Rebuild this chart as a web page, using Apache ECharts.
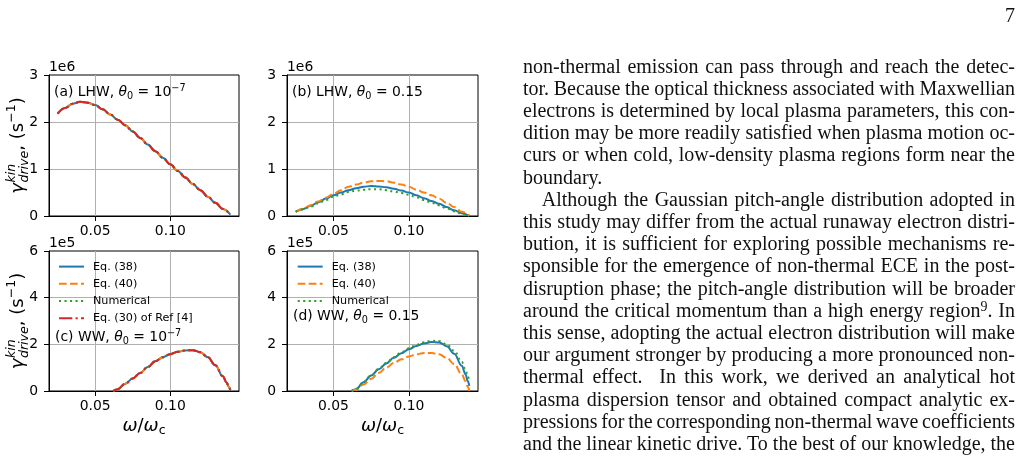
<!DOCTYPE html>
<html>
<head>
<meta charset="utf-8">
<script src="https://cdn.jsdelivr.net/npm/echarts@6/dist/echarts.min.js"></script>
<style>
html, body { margin: 0; padding: 0; background: #fff; }
#page { position: relative; width: 1021px; height: 471px; overflow: hidden; }
#chart { position: absolute; left: 0; top: 0; width: 1021px; height: 471px; }
#col { position: absolute; left: 523px; top: 54.6px; width: 492px; font-family: 'Liberation Serif', serif; font-size: 20px; color: #111; }
.ln { position: absolute; left: 0; height: 22.2px; line-height: 22.2px; white-space: pre; }
.ln sup { font-size: 0.7em; vertical-align: 0.45em; line-height: 0; }
#pageno { position: absolute; right: 6px; top: 4.2px; font-family: 'Liberation Serif', serif; font-size: 20px; line-height: 22.2px; color: #111; }
</style>
</head>
<body>
<div id="page">
  <div id="chart"></div>
  <div id="pageno">7</div>
  <div id="col"></div>
</div>
<script>
// omega / omega_c samples, LHW panels (a) and (b)
const lhwX = [0.025, 0.030, 0.035, 0.040, 0.045, 0.050, 0.055, 0.060, 0.065, 0.070, 0.075, 0.080,
              0.085, 0.090, 0.095, 0.100, 0.105, 0.110, 0.115, 0.120, 0.125, 0.130, 0.135, 0.140];
// (a) all four curves coincide, units of 1e6 s^-1
const lhwA = [2.18, 2.30, 2.39, 2.43, 2.41, 2.36, 2.27, 2.16, 2.05, 1.93, 1.80, 1.66,
              1.52, 1.38, 1.24, 1.10, 0.96, 0.82, 0.68, 0.55, 0.41, 0.28, 0.15, 0.03];
// (b) units of 1e6 s^-1
const lhwB38  = [0.09, 0.15, 0.22, 0.29, 0.37, 0.44, 0.50, 0.55, 0.59, 0.62, 0.64, 0.63,
                 0.61, 0.58, 0.54, 0.50, 0.44, 0.38, 0.32, 0.26, 0.19, 0.12, 0.06, 0.00];
const lhwB40  = [0.09, 0.15, 0.23, 0.31, 0.39, 0.47, 0.55, 0.62, 0.67, 0.71, 0.74, 0.745,
                 0.74, 0.71, 0.67, 0.62, 0.56, 0.50, 0.44, 0.37, 0.28, 0.19, 0.09, 0.01];
const lhwBNum = [0.09, 0.14, 0.20, 0.27, 0.34, 0.41, 0.46, 0.51, 0.54, 0.56, 0.57, 0.57,
                 0.55, 0.52, 0.49, 0.45, 0.40, 0.34, 0.28, 0.23, 0.16, 0.10, 0.05, 0.01];

// WW panels (c) and (d)
const wwX = [0.062, 0.065, 0.070, 0.075, 0.080, 0.085, 0.090, 0.095, 0.100, 0.105,
             0.110, 0.115, 0.120, 0.125, 0.130, 0.135, 0.1375, 0.139, 0.140];
// (c) all four curves coincide, units of 1e5 s^-1
const wwC = [0.00, 0.08, 0.31, 0.54, 0.77, 1.03, 1.28, 1.45, 1.58, 1.68,
             1.74, 1.75, 1.66, 1.45, 1.10, 0.63, 0.36, 0.18, 0.02];
// (d) units of 1e5 s^-1
const wwD38  = [0.00, 0.08, 0.38, 0.66, 0.93, 1.18, 1.42, 1.62, 1.79, 1.93,
                2.04, 2.10, 2.08, 1.92, 1.60, 1.08, 0.72, 0.42, 0.22];
const wwD40  = [0.00, 0.05, 0.28, 0.52, 0.77, 1.00, 1.20, 1.36, 1.48, 1.57,
                1.63, 1.63, 1.57, 1.42, 1.15, 0.72, 0.42, 0.18, 0.00];
const wwDNum = [0.00, 0.09, 0.39, 0.67, 0.95, 1.20, 1.45, 1.66, 1.83, 1.98,
                2.09, 2.15, 2.14, 2.00, 1.72, 1.25, 0.90, 0.62, 0.42];

const xTicks = [0.05, 0.10];
const seriesNames = ['Eq. (38)', 'Eq. (40)', 'Numerical', 'Eq. (30) of Ref [4]'];
const panelTitles = [
  '{t|(a) LHW, }{i|θ}{s|0}{t| = 10}{p|−7}',
  '{t|(b) LHW, }{i|θ}{s|0}{t| = 0.15}',
  '{t|(c) WW, }{i|θ}{s|0}{t| = 10}{p|−7}',
  '{t|(d) WW, }{i|θ}{s|0}{t| = 0.15}'
];
const offsetLabels = ['1e6', '1e6', '1e5', '1e5'];

const bodyLines = [
  'non-thermal emission can pass through and reach the detec-',
  'tor. Because the optical thickness associated with Maxwellian',
  'electrons is determined by local plasma parameters, this con-',
  'dition may be more readily satisfied when plasma motion oc-',
  'curs or when cold, low-density plasma regions form near the',
  'boundary.',
  'Although the Gaussian pitch-angle distribution adopted in',
  'this study may differ from the actual runaway electron distri-',
  'bution, it is sufficient for exploring possible mechanisms re-',
  'sponsible for the emergence of non-thermal ECE in the post-',
  'disruption phase; the pitch-angle distribution will be broader',
  'around the critical momentum than a high energy region<sup>9</sup>. In',
  'this sense, adopting the actual electron distribution will make',
  'our argument stronger by producing a more pronounced non-',
  'thermal effect.  In this work, we derived an analytical hot',
  'plasma dispersion tensor and obtained compact analytic ex-',
  'pressions for the corresponding non-thermal wave coefficients',
  'and the linear kinetic drive. To the best of our knowledge, the'
];

// ---- text column ----
const COLW = 492, LH = 22.2;
const col = document.getElementById('col');
bodyLines.forEach((html, i) => {
  const d = document.createElement('div');
  d.className = 'ln';
  d.style.top = (i * LH) + 'px';
  const indent = i === 6 ? 18.7 : 0;
  d.style.left = indent + 'px';
  const sp = document.createElement('span');
  sp.innerHTML = html;
  d.appendChild(sp);
  col.appendChild(d);
  if (i !== 5) {
    const plain = html.replace(/<[^>]+>/g, '');
    const n = (plain.match(/ /g) || []).length;
    const w = sp.getBoundingClientRect().width;
    sp.style.wordSpacing = ((COLW - indent - w) / n) + 'px';
  }
});

// ---- chart ----
const FONT = 'DejaVu Sans';
const X_MIN = 0.01925, X_MAX = 0.14575;
const colors = ['#1f77b4', '#ff7f0e', '#2ca02c', '#d62728'];
const dashes = ['solid', [7.7, 3.3], [2.1, 3.4], [13.3, 3.3, 2.1, 3.3]];

const grids = [
  { left: 49, top: 75, width: 190, height: 141 },
  { left: 287, top: 75, width: 191, height: 141 },
  { left: 49, top: 251, width: 190, height: 140 },
  { left: 287, top: 251, width: 191, height: 140 }
].map(g => Object.assign({ show: true, borderColor: '#000', borderWidth: 1, outerBoundsMode: 'none' }, g));

const xAxis = grids.map((g, i) => ({
  type: 'value', gridIndex: i, min: X_MIN, max: X_MAX,
  axisLine: { show: true, onZero: false, lineStyle: { color: '#000', width: 1 } },
  axisTick: { show: true, inside: false, length: 5, customValues: xTicks, lineStyle: { color: '#000', width: 1 } },
  axisLabel: { customValues: xTicks, formatter: v => v.toFixed(2), margin: 8, fontSize: 13.9, color: '#000', fontFamily: FONT },
  splitLine: { show: true, lineStyle: { color: '#b0b0b0', width: 1 } },
  name: i >= 2 ? '{i|ω}{t|/}{i|ω}{s|c}' : '',
  nameLocation: 'middle', nameGap: 24,
  nameTextStyle: {
    color: '#000', fontFamily: FONT, fontSize: 18,
    rich: {
      i: { fontStyle: 'italic', fontSize: 18, fontFamily: FONT, lineHeight: 22, color: '#000' },
      t: { fontSize: 18, fontFamily: FONT, lineHeight: 22, color: '#000' },
      s: { fontSize: 12.6, fontFamily: FONT, lineHeight: 12, verticalAlign: 'bottom', color: '#000' }
    }
  }
}));

const yAxis = grids.map((g, i) => ({
  type: 'value', gridIndex: i, min: 0, max: i < 2 ? 3 : 6, interval: i < 2 ? 1 : 2,
  axisLine: { show: true, onZero: false, lineStyle: { color: '#000', width: 1 } },
  axisTick: { show: true, inside: false, length: 5, lineStyle: { color: '#000', width: 1 } },
  axisLabel: { margin: 11, fontSize: 13.9, color: '#000', fontFamily: FONT },
  splitLine: { show: true, showMinLine: false, showMaxLine: false, lineStyle: { color: '#b0b0b0', width: 1 } },
  name: offsetLabels[i], nameLocation: 'end', nameGap: 1,
  nameTextStyle: { align: 'left', verticalAlign: 'bottom', fontSize: 13.9, color: '#000', fontFamily: FONT, padding: 0 }
}));

function line(k, xs, ys, gi) {
  return {
    type: 'line', name: seriesNames[k], xAxisIndex: gi, yAxisIndex: gi,
    data: xs.map((x, j) => [x, ys[j]]),
    showSymbol: false, symbol: 'none', smooth: 0.4, smoothMonotone: 'x', silent: true, z: 3 + k,
    lineStyle: { color: colors[k], width: 2, type: dashes[k], cap: 'butt' },
    itemStyle: { color: colors[k] }
  };
}

const series = [
  line(0, lhwX, lhwA, 0), line(1, lhwX, lhwA, 0), line(2, lhwX, lhwA, 0), line(3, lhwX, lhwA, 0),
  line(0, lhwX, lhwB38, 1), line(1, lhwX, lhwB40, 1), line(2, lhwX, lhwBNum, 1),
  line(0, wwX, wwC, 2), line(1, wwX, wwC, 2), line(2, wwX, wwC, 2), line(3, wwX, wwC, 2),
  line(0, wwX, wwD38, 3), line(1, wwX, wwD40, 3), line(2, wwX, wwDNum, 3)
];

const titleRich = {
  t: { fontSize: 13.9, fontFamily: FONT, lineHeight: 18, fill: '#000' },
  i: { fontSize: 13.9, fontFamily: FONT, fontStyle: 'italic', lineHeight: 18, fill: '#000' },
  s: { fontSize: 9.7, fontFamily: FONT, lineHeight: 8, verticalAlign: 'bottom', fill: '#000' },
  p: { fontSize: 9.7, fontFamily: FONT, lineHeight: 8, verticalAlign: 'top', fill: '#000' }
};
const titlePos = [[54, 92.7], [292, 92.7], [55, 337], [293, 316]];

const measureCtx = document.createElement('canvas').getContext('2d');
function tw(txt, size, italic) {
  measureCtx.font = (italic ? 'italic ' : '') + size + 'px "' + FONT + '"';
  return measureCtx.measureText(txt).width;
}
function yTitle(cx, cy) {
  const F = 18, S = 12.6;
  const x1 = tw('γ', F, true) + 0.5;
  const x2 = x1 + Math.max(tw('kin', S, true), tw('drive', S, true));
  const x3 = x2 + tw(', (s', F, false);
  const x4 = x3 + tw('−1', S, false);
  const W = x4 + tw(')', F, false);
  const o = -W / 2;
  const t = (text, x, y, size, italic) => ({
    type: 'text', x: o + x, y: y, silent: true,
    style: { text, fontSize: size, fontFamily: FONT, fontStyle: italic ? 'italic' : 'normal', fill: '#000', verticalAlign: 'middle', align: 'left' }
  });
  return {
    type: 'group', x: cx, y: cy, rotation: Math.PI / 2, silent: true,
    children: [
      t('γ', 0, 0, F, true),
      t('kin', x1, -6, S, true),
      t('drive', x1, 6.5, S, true),
      t(', (s', x2, 0, F, false),
      t('−1', x3, -6, S, false),
      t(')', x4, 0, F, false)
    ]
  };
}

const legendBase = {
  orient: 'vertical', itemWidth: 25, itemHeight: 14, itemGap: 6, padding: 0,
  selectedMode: false, itemStyle: { opacity: 0 }, lineStyle: { width: 2 },
  textStyle: { fontSize: 11.2, color: '#000', fontFamily: FONT, padding: [0, 0, 0, 4] }
};

const chart = echarts.init(document.getElementById('chart'), null, { renderer: 'canvas' });
chart.setOption({
  animation: false,
  backgroundColor: '#fff',
  grid: grids,
  xAxis: xAxis,
  yAxis: yAxis,
  legend: [
    Object.assign({ left: 58, top: 261, data: seriesNames }, legendBase),
    Object.assign({ left: 296.7, top: 261, data: seriesNames.slice(0, 3) }, legendBase)
  ],
  graphic: [
    ...panelTitles.map((txt, i) => ({
      type: 'text', x: titlePos[i][0], y: titlePos[i][1], silent: true, z: 10,
      style: { text: txt, rich: titleRich, verticalAlign: 'middle', align: 'left', fontFamily: FONT, fontSize: 13.9, fill: '#000' }
    })),
    yTitle(18, 145.5),
    yTitle(18, 321)
  ],
  series: series
});
</script>
</body>
</html>
